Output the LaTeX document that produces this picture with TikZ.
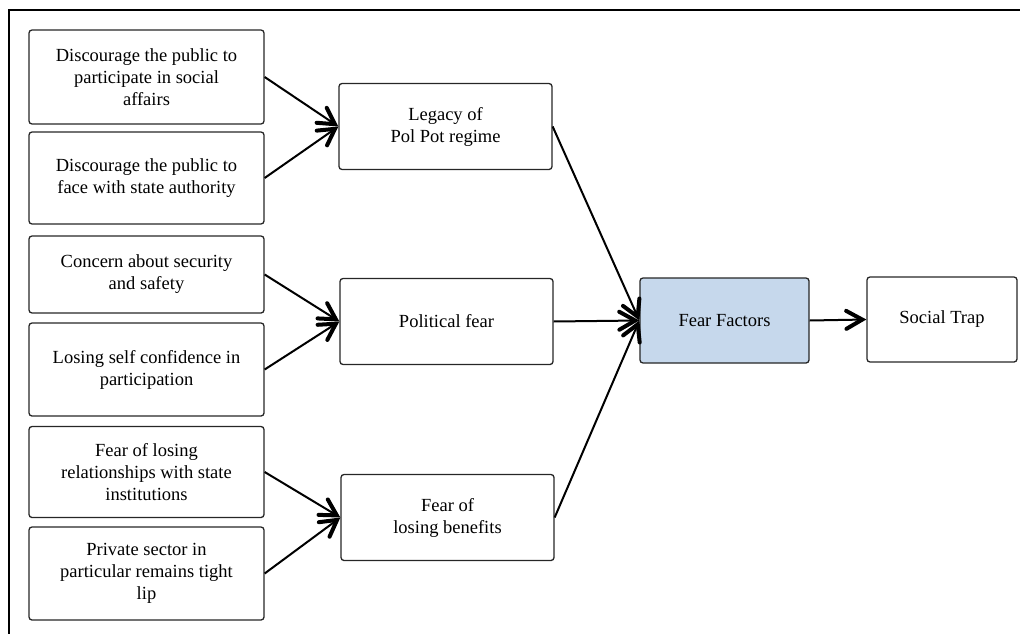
\documentclass[tikz,border=0pt]{standalone}
\usepackage{fontspec}
\setmainfont{Liberation Serif}
\usetikzlibrary{arrows.meta}
\definecolor{factorfill}{RGB}{198,216,236}
\begin{document}
\begin{tikzpicture}[x=1pt,y=-1pt,
  box/.style={draw=black!85, line width=1.3pt, rounded corners=3pt, align=center,
    font=\fontsize{18.5}{22}\selectfont, inner sep=0pt},
  leftbox/.style={box, minimum width=235pt},
  midbox/.style={box, minimum width=213pt, minimum height=86pt},
  link/.style={line width=2pt, -{Straight Barb[length=16pt,width=18pt,line width=4pt,line cap=round]}}]
  \useasboundingbox (0,0) rectangle (1020,634);
  % outer frame (top and left edges only)
  \draw[line width=1.5pt] (9,634) -- (9,10) -- (1020,10);

  % causes
  \node[leftbox, minimum height=94pt] (b1) at (146.5,77) {Discourage the public to\\participate in social\\affairs};
  \node[leftbox, minimum height=92pt] (b2) at (146.5,178) {Discourage the public to\\face with state authority};
  \node[leftbox, minimum height=77pt] (b3) at (146.5,274.5) {Concern about security\\and safety};
  \node[leftbox, minimum height=93pt] (b4) at (146.5,369.5) {Losing self confidence in\\participation};
  \node[leftbox, minimum height=91pt] (b5) at (146.5,472) {Fear of losing\\relationships with state\\institutions};
  \node[leftbox, minimum height=93pt] (b6) at (146.5,573.5) {Private sector in\\particular remains tight\\lip};

  % intermediate factors
  \node[midbox] (legacy) at (445.5,126.5) {Legacy of\\Pol Pot regime};
  \node[midbox] (political) at (446.5,321.5) {Political fear};
  \node[midbox] (benefits) at (447.5,517.5) {Fear of\\losing benefits};

  % outcome
  \node[box, fill=factorfill, minimum width=169pt, minimum height=85pt] (fear) at (724.5,320.5) {Fear Factors};
  \node[box, minimum width=150pt, minimum height=85pt] (trap) at (942,319.5) {Social Trap};

  % connectors
  \draw[link] (b1.east) -- (legacy.west);
  \draw[link] (b2.east) -- (legacy.west);
  \draw[link] (b3.east) -- (political.west);
  \draw[link] (b4.east) -- (political.west);
  \draw[link] (b5.east) -- (benefits.west);
  \draw[link] (b6.east) -- (benefits.west);
  \draw[link] (legacy.east) -- (fear.west);
  \draw[link] (political.east) -- (fear.west);
  \draw[link] (benefits.east) -- (fear.west);
  \draw[link] (fear.east) -- (trap.west);
\end{tikzpicture}
\end{document}
